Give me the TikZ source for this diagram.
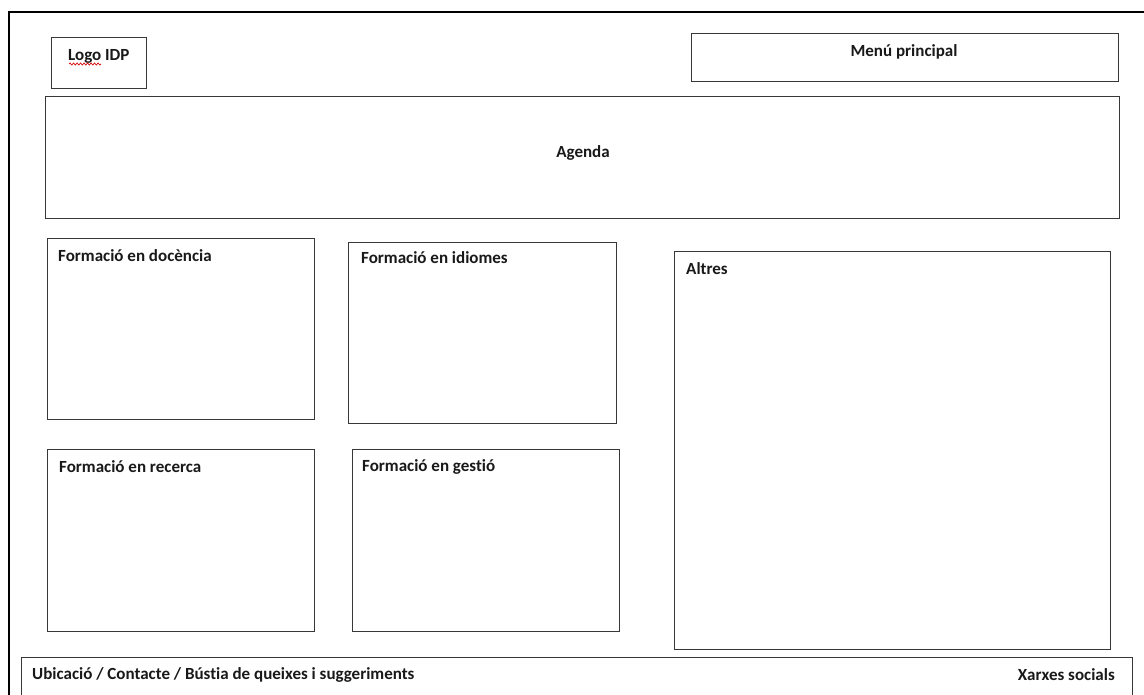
\documentclass[tikz,border=0pt]{standalone}
\usepackage{fontspec}
\setmainfont{Carlito}[Ligatures={NoCommon}]
\usetikzlibrary{decorations.pathmorphing}
\tikzset{
  box/.style={draw=black!78, line width=1.2pt, fill=none, inner sep=0pt, anchor=north west},
  lbl/.style={font=\fontsize{17}{20}\selectfont\bfseries, inner sep=0pt, text=black!90},
  frame/.style={draw=black, line width=2pt}
}
\begin{document}
\begin{tikzpicture}[x=1pt,y=-1pt]
\useasboundingbox (0,0) rectangle (1144,695);
\clip (0,0) rectangle (1144,695);
\fill[white] (0,0) rectangle (1144,695);
% outer frame (only top and left visible)
\coordinate (fbl) at (9,710);
\coordinate (ftl) at (9,12);
\coordinate (ftr) at (1160,12);
\draw[frame] (fbl) -- (ftl) -- (ftr);
% boxes
\node[box, minimum width=95pt, minimum height=51pt] (logo) at (51,37) {};
\node[box, minimum width=427pt, minimum height=48pt] (menu) at (691,33) {};
\node[box, minimum width=1074pt, minimum height=122pt] (agenda) at (45,96) {};
\node[box, minimum width=267pt, minimum height=181pt] (doc) at (47,238) {};
\node[box, minimum width=268pt, minimum height=181pt] (idi) at (348,242) {};
\node[box, minimum width=436pt, minimum height=398pt] (alt) at (674,251) {};
\node[box, minimum width=267pt, minimum height=182pt] (rec) at (47,449) {};
\node[box, minimum width=267pt, minimum height=182pt] (ges) at (352,449) {};
\node[box, minimum width=1111pt, minimum height=60pt] (foot) at (21,657) {};
% labels
\node[lbl, anchor=west] (tlogo) at (68,56) {Logo IDP};
\coordinate (sq1) at (69,64);
\coordinate (sq2) at (101,64);
\draw[red!85!black, line width=0.7pt, decorate, decoration={snake, amplitude=1pt, segment length=3.5pt}] (sq1) -- (sq2);
\node[lbl] (tmenu) at (904,52) {Menú principal};
\node[lbl] (tagenda) at (583,153) {Agenda};
\node[lbl, anchor=west] (tdoc) at (58,256) {Formació en docència};
\node[lbl, anchor=west] (tidi) at (361,258) {Formació en idiomes};
\node[lbl, anchor=west] (talt) at (686,269) {Altres};
\node[lbl, anchor=west] (trec) at (59,467) {Formació en recerca};
\node[lbl, anchor=west] (tges) at (362,467) {Formació en gestió};
\node[lbl, anchor=west] (tub) at (32,675) {Ubicació / Contacte / Bústia de queixes i suggeriments};
\node[lbl, anchor=east] (txs) at (1115,675) {Xarxes socials};
\end{tikzpicture}
\end{document}
